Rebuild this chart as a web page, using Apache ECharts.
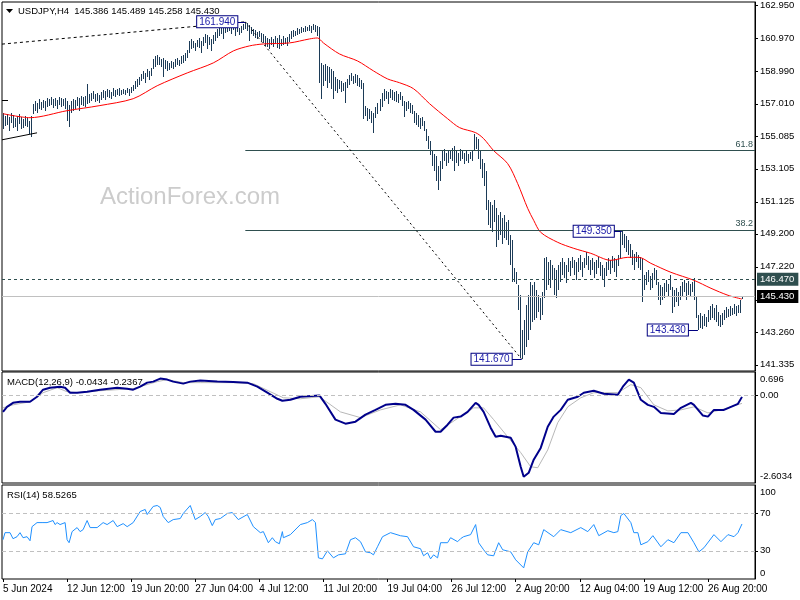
<!DOCTYPE html>
<html><head><meta charset="utf-8">
<script src="https://cdn.jsdelivr.net/npm/echarts@6/dist/echarts.min.js"></script>
<style>html,body{margin:0;padding:0;background:#fff}#c{width:800px;height:600px}</style>
</head><body><div id="c"></div>
<script>
// ---------- DATA ----------
const highs = [
156.48,156.30,156.42,156.24,156.48,156.36,156.18,156.30,156.42,156.24,
156.12,156.30,156.18,156.00,156.30,157.02,157.20,157.08,157.32,157.14,
157.26,157.20,157.38,157.32,157.44,157.32,157.38,157.26,157.44,157.38,
157.32,157.38,157.20,156.96,157.20,157.32,157.26,157.44,157.38,157.50,
157.44,157.50,158.22,157.62,157.68,157.80,157.62,157.68,157.56,157.74,
157.86,157.80,157.92,157.86,157.74,157.98,157.86,157.92,157.98,157.86,
157.92,157.86,157.98,157.92,158.04,158.16,158.40,158.51,158.63,158.81,
158.99,158.87,159.11,158.99,159.17,159.71,159.89,159.95,159.83,159.71,
159.77,159.65,159.59,159.47,159.59,159.53,159.71,159.77,159.65,159.89,
159.95,160.07,160.25,160.79,160.91,160.79,160.67,160.85,160.97,160.79,
161.03,161.21,161.15,161.03,160.91,161.15,161.33,161.51,161.57,161.69,
161.57,161.75,161.69,161.87,161.75,161.81,161.63,161.75,161.57,161.69,
161.81,161.94,161.87,161.75,161.63,161.51,161.45,161.33,161.39,161.27,
161.21,161.09,160.97,160.91,161.03,160.91,161.09,160.97,161.15,160.91,
161.09,160.97,161.03,161.21,161.39,161.45,161.39,161.57,161.51,161.63,
161.57,161.69,161.63,161.75,161.69,161.81,161.75,161.69,161.63,159.47,
159.35,159.41,159.29,159.23,159.11,158.99,158.63,158.51,158.45,158.40,
158.28,158.34,158.51,158.75,158.87,158.69,158.81,158.75,158.57,158.45,
158.28,156.90,156.78,156.72,156.60,156.48,156.84,157.08,157.32,157.68,
157.92,157.80,157.74,157.92,157.86,157.74,157.80,157.62,157.74,157.50,
157.20,157.14,157.20,157.08,156.96,156.60,156.48,156.36,156.18,156.24,
156.00,155.52,155.10,154.80,154.20,154.02,153.90,153.30,153.60,154.20,
154.32,154.08,154.26,154.20,154.38,154.50,154.20,154.08,154.32,154.20,
154.08,154.20,154.02,154.14,154.26,155.22,155.04,154.92,154.20,153.72,
153.48,153.00,151.21,151.09,150.91,151.21,150.73,150.31,150.49,150.13,
150.31,149.89,150.01,149.11,148.81,147.13,146.89,146.11,145.51,143.42,
144.02,144.92,145.51,146.29,146.11,146.29,145.81,145.51,145.33,145.69,
147.73,147.79,147.49,147.61,147.31,147.13,147.01,147.31,147.49,147.73,
147.49,147.31,147.73,147.55,147.79,147.61,147.49,147.73,147.91,147.49,
147.73,148.09,147.85,147.61,147.73,147.49,147.61,147.79,147.49,147.31,
147.13,147.49,147.73,147.61,147.85,147.73,147.61,147.91,149.29,149.35,
149.17,149.05,148.81,148.57,148.21,147.97,148.09,147.91,147.79,147.73,
146.71,146.89,147.01,146.65,146.83,147.13,147.01,146.29,146.11,145.99,
146.23,146.41,146.17,146.71,145.99,145.81,145.93,145.69,146.05,146.29,
146.41,146.23,146.35,146.17,146.29,146.53,145.39,144.32,144.44,144.26,
144.38,144.20,144.62,144.86,144.98,144.74,144.92,144.50,144.32,144.44,
144.62,144.80,144.68,144.86,144.74,144.98,144.86,144.92,145.22,145.489
];
const lows = [
155.52,155.70,155.76,155.40,155.88,155.58,155.64,155.40,155.82,155.52,
155.58,155.70,155.64,155.22,155.04,156.42,156.60,156.48,156.72,156.66,
156.78,156.60,156.84,156.90,156.96,156.78,156.90,156.72,156.96,156.84,
156.90,156.72,156.00,155.64,156.48,156.60,156.72,156.90,156.60,156.96,
156.90,156.84,157.02,157.08,157.20,157.32,157.14,157.20,157.08,157.26,
157.38,157.26,157.44,157.38,157.32,157.50,157.44,157.56,157.50,157.56,
157.62,157.56,157.68,157.50,157.68,157.80,157.92,158.04,158.16,158.40,
158.51,158.28,158.63,158.45,158.69,159.11,159.23,159.35,159.35,159.23,
158.63,159.11,158.99,159.05,159.17,159.11,159.23,159.35,159.29,159.41,
159.47,159.59,159.77,160.07,160.31,160.37,160.19,160.43,160.37,160.07,
160.49,160.67,160.31,160.55,160.19,160.61,160.79,160.97,161.09,161.21,
160.91,161.27,161.33,161.39,161.21,161.45,161.09,161.33,161.15,161.27,
161.45,161.51,161.39,160.79,161.21,161.09,160.97,160.91,161.03,160.79,
160.67,160.49,160.43,160.31,160.55,160.43,160.61,160.37,160.31,160.49,
160.55,160.61,160.49,160.73,160.91,161.03,161.09,161.15,161.21,161.27,
161.33,161.33,161.39,161.39,161.27,161.45,161.33,161.09,158.28,157.32,
158.10,158.40,157.98,158.28,157.92,157.32,157.80,157.68,157.92,157.74,
157.80,157.08,157.98,158.16,158.40,158.22,158.28,158.10,158.04,157.92,
156.12,156.30,156.00,156.12,155.88,155.28,156.18,156.42,156.60,156.84,
157.20,157.32,157.02,157.38,157.26,157.20,157.14,157.08,157.26,156.90,
156.24,156.60,156.72,156.48,156.42,155.88,155.76,155.64,155.52,155.70,
155.40,154.80,154.32,153.96,153.30,153.00,152.40,151.81,152.40,153.12,
153.60,153.30,153.48,153.72,153.60,153.00,153.48,153.30,153.60,153.72,
153.42,153.60,153.48,153.72,153.60,154.20,154.32,153.72,153.12,152.58,
152.10,150.61,149.71,149.53,149.29,149.89,148.39,148.81,149.11,148.57,
148.93,148.81,148.51,147.31,146.29,146.29,146.17,144.62,141.74,141.67,
141.92,142.40,142.82,143.42,143.90,144.02,144.14,144.50,144.02,144.32,
145.33,145.81,146.11,145.93,146.41,145.51,145.33,145.81,146.29,146.71,
146.53,146.23,146.89,146.65,147.13,146.71,146.41,146.89,147.01,146.59,
147.13,147.31,147.01,146.71,147.01,146.53,146.77,147.13,146.65,146.41,
145.99,146.65,147.01,146.77,147.13,146.89,146.59,147.25,147.73,148.51,
148.33,148.09,147.91,147.73,147.31,147.01,147.49,147.13,147.01,145.10,
145.81,146.11,146.29,145.81,145.93,146.41,146.11,145.22,144.92,145.22,
145.33,145.69,145.45,145.81,144.44,144.80,145.10,144.86,145.22,145.45,
145.69,145.22,145.51,145.39,145.69,145.22,144.14,143.43,143.54,143.48,
143.66,143.60,143.90,144.02,144.14,144.02,143.90,143.66,143.60,143.72,
144.02,144.14,144.20,144.26,144.32,144.38,144.26,144.44,144.44,145.258
];
// moving average (red), [bar index, price]
const maLine = [[0,156.42],[13.5,156.18],[32,156.60],[48,156.90],[65,157.32],[77,158.10],[92,158.87],[105,159.47],[115,160.19],[123,160.49],[130,160.61],[143,160.67],[153,160.91],[157,160.97],[160,160.67],[168,160.01],[177,159.59],[185,158.99],[192,158.51],[198,158.28],[205,157.92],[213,157.02],[222,156.12],[228,155.58],[236,155.28],[240,154.92],[245,154.20],[252,153.42],[257,152.22],[262,150.73],[265,150.01],[268.5,149.29],[277,148.69],[285,148.33],[293.5,148.03],[303.5,147.61],[312,147.79],[317.5,147.79],[323.5,147.43],[333.5,146.89],[345,146.41],[353.5,145.93],[362,145.51],[369,145.28]];
const macdLine = [[0,-0.49],[2,-0.34],[5,-0.22],[8.5,-0.19],[13.5,-0.19],[17,-0.04],[20,0.17],[23.5,0.23],[28.5,0.26],[31,0.23],[33.5,0.08],[37,0.08],[42,0.11],[48.5,0.17],[57,0.23],[62,0.20],[65,0.17],[68.5,0.26],[72,0.38],[75,0.41],[78.5,0.50],[82,0.47],[85,0.41],[90,0.35],[93.5,0.41],[98.5,0.44],[107,0.41],[115,0.40],[122,0.38],[127,0.26],[132,0.08],[137,-0.10],[139.5,-0.16],[143.5,-0.13],[148.5,-0.04],[158,0.00],[161,-0.25],[166,-0.72],[171,-0.84],[176,-0.78],[181,-0.57],[186,-0.43],[191,-0.28],[196,-0.25],[201,-0.28],[205,-0.43],[211,-0.72],[216,-1.08],[218.5,-1.08],[222,-0.87],[225,-0.66],[228.5,-0.63],[232,-0.49],[236,-0.22],[237.5,-0.28],[240,-0.49],[243.5,-0.96],[246,-1.23],[248.5,-1.20],[253.5,-1.26],[256,-1.53],[258.5,-2.12],[260,-2.42],[262.5,-2.30],[265,-1.91],[268.5,-1.56],[272,-0.93],[275,-0.63],[278.5,-0.43],[282,-0.13],[287,-0.04],[290,0.08],[295,0.14],[300,0.05],[307,0.02],[309.5,0.26],[312.5,0.47],[315,0.38],[318.5,-0.13],[322,-0.28],[325,-0.34],[328.5,-0.52],[335,-0.55],[338.5,-0.37],[343.5,-0.22],[345,-0.28],[349.5,-0.60],[352,-0.63],[355,-0.43],[360,-0.43],[363.5,-0.34],[367,-0.25],[369,-0.0434]];
const signalLine = [[0,-0.37],[5,-0.28],[13.5,-0.19],[20,0.08],[27,0.23],[32,0.11],[37,0.08],[48.5,0.14],[65,0.20],[77,0.41],[82,0.47],[90,0.38],[98.5,0.38],[115,0.38],[125,0.35],[133.5,0.11],[140,-0.07],[148.5,-0.10],[158,-0.04],[168.5,-0.49],[178.5,-0.66],[188.5,-0.43],[198.5,-0.28],[208.5,-0.49],[218.5,-1.02],[235,-0.37],[240,-0.37],[245,-0.72],[252,-1.23],[258.5,-1.70],[263.5,-2.12],[267,-2.15],[272,-1.62],[277,-0.81],[282,-0.34],[288.5,-0.07],[295,0.08],[307,0.08],[313.5,0.32],[318.5,0.23],[325,-0.28],[332,-0.46],[338.5,-0.43],[345,-0.34],[352,-0.52],[358.5,-0.43],[369,-0.2367]];
const rsiLine = [[0,41.8],[1,49.3],[3.5,49.3],[5,42.9],[7,45.0],[8.5,49.3],[10,43.9],[12,45.0],[13.5,40.7],[14.5,55.7],[17,60.0],[19.5,60.0],[22,60.0],[23.5,61.1],[25,62.2],[26,57.9],[27,60.0],[28.5,57.9],[31,60.0],[32,41.8],[33,38.6],[34.5,50.4],[37,54.7],[38.5,50.4],[40,52.5],[42,62.2],[43.5,54.7],[47,54.7],[50,60.0],[52,57.9],[55,62.2],[57,55.7],[60,58.9],[62,55.7],[65,60.0],[68.5,71.8],[71,74.0],[72,68.6],[75,77.2],[77,78.2],[78.5,76.1],[80,66.5],[82.5,60.0],[85,63.2],[88.5,64.3],[90,69.7],[93.5,78.2],[96,63.2],[98.5,66.5],[101,70.7],[102.5,66.5],[104.5,56.8],[106,63.2],[108.5,64.3],[112,69.7],[114.5,70.7],[117.5,63.2],[122,68.6],[125,55.7],[128.5,49.3],[130,50.4],[132.5,38.6],[134.5,43.9],[136,39.7],[138,37.5],[139.5,50.4],[140,43.9],[143.5,47.2],[148.5,57.9],[152,60.0],[154.5,63.2],[156,60.0],[157.5,22.5],[159.5,21.4],[162,30.0],[165,22.5],[167.5,25.7],[171,26.8],[173.5,41.8],[176,43.9],[178.5,39.7],[181,28.9],[183.5,27.9],[185,25.7],[187,34.3],[189.5,45.0],[193.5,49.3],[198.5,46.0],[202,45.0],[205,34.3],[208.5,32.2],[210,24.7],[212,27.9],[213.5,21.4],[215,25.7],[217,22.5],[218.5,38.6],[222,38.6],[223.5,43.9],[227,39.7],[228.5,42.9],[230,45.0],[233.5,47.2],[236,57.9],[237.5,38.6],[240,31.1],[242,25.7],[245,24.7],[247.5,38.6],[249.5,31.1],[253.5,28.9],[256,20.4],[260,11.8],[262,28.9],[265,38.6],[267.5,36.4],[270,52.5],[275,45.0],[278.5,52.5],[283.5,49.3],[288.5,54.7],[292,50.4],[295,57.9],[297.5,46.1],[302,51.4],[305,49.3],[307,50.4],[308.5,67.5],[310,69.7],[313.5,60.0],[315,49.3],[317,49.3],[318.5,36.4],[322,39.7],[324.5,46.1],[328.5,34.3],[332,41.8],[335,38.6],[338.5,49.3],[342,49.3],[345,38.6],[347.5,28.9],[350,33.2],[355,47.2],[358.5,39.7],[362,47.2],[365,45.0],[367,49.3],[369,58.5265]];
const priceTicks = [162.950,160.970,158.990,157.010,155.085,153.105,151.125,149.200,147.220,145.240,143.260,141.335];
const timeLabels = ['5 Jun 2024','12 Jun 12:00','19 Jun 20:00','27 Jun 04:00','4 Jul 12:00','11 Jul 20:00','19 Jul 04:00','26 Jul 12:00','2 Aug 20:00','12 Aug 04:00','19 Aug 12:00','26 Aug 20:00'];
const LABEL_STEP = 32;          // bars between time labels
const N_SLOTS = 376;            // bar slots incl. right shift
const fibLevels = [{name:'61.8', value:154.197},{name:'38.2', value:149.413}];
const fibStartBar = 121, swingHigh = 161.94, swingHighBar = 121, swingLow = 141.67, swingLowBar = 259;
const levelLines = [{value:146.47, text:'146.470'},{value:145.43, text:'145.430'}];
// price callouts: [text, price, box bar, target bar]
const callouts = [['161.940',161.94,117,121],['149.350',149.35,305,309],['143.430',143.43,342,347],['141.670',141.67,254,259]];
const macdTop = 0.696, macdBottom = -2.6034;
const titleText = 'USDJPY,H4  145.386 145.489 145.258 145.430';
const macdText = 'MACD(12,26,9) -0.0434 -0.2367';
const rsiText = 'RSI(14) 58.5265';

// ---------- CHART ----------
const FONT = 'Liberation Sans';
const BAR_COLOR = '#1c3b57';
const SLATE = '#2F4F4F';
const NAVY = '#000080';
const chart = echarts.init(document.getElementById('c'), null, {renderer:'canvas', width:800, height:600});
const cats = Array.from({length:N_SLOTS}, (_, i) => String(i));
const barData = highs.map((h, i) => [i, lows[i], h]);
const showIdx = (idx) => idx % LABEL_STEP === 0 && idx / LABEL_STEP < timeLabels.length;
const valueX = (g, pos) => ({type:'value', gridIndex:g, min:-0.5, max:N_SLOTS - 0.5, show:false, position:pos || 'bottom', axisLine:{onZero:false}});
const noSym = ['none','none'];

const markData = [];
levelLines.forEach((l, k) => {
  markData.push({yAxis:l.value,
    lineStyle: k === 0 ? {color:SLATE, type:[3,3], width:1} : {color:'#C0C0C0', type:'solid', width:1},
    label:{show:true, position:'end', distance:2, formatter:l.text, color:'#fff',
      backgroundColor: k === 0 ? SLATE : '#000', padding:[2,4,1,3], fontSize:9.5, fontFamily:FONT}});
});
fibLevels.forEach(f => {
  markData.push([{coord:[fibStartBar, f.value], lineStyle:{color:SLATE, type:'solid', width:1},
     label:{show:true, position:'insideEndTop', formatter:f.name, color:SLATE, fontSize:9, fontFamily:FONT, distance:2}},
    {coord:[N_SLOTS - 0.5, f.value]}]);
});
markData.push([{coord:[swingHighBar, swingHigh], lineStyle:{color:'#000', type:[2,3], width:1}, label:{show:false}}, {coord:[swingLowBar, swingLow]}]);
markData.push([{coord:[-0.5, 160.60], lineStyle:{color:'#000', type:[3,3], width:1}, label:{show:false}}, {coord:[swingHighBar, swingHigh]}]);
markData.push([{coord:[-0.5, 154.85], lineStyle:{color:'#000', type:'solid', width:1}, label:{show:false}}, {coord:[17, 155.27]}]);
markData.push([{coord:[-0.5, 157.20], lineStyle:{color:'#000', type:'solid', width:1}, label:{show:false}}, {coord:[2.5, 157.20]}]);
callouts.forEach(c => {
  markData.push([{coord:[c[2], c[1]], lineStyle:{color:NAVY, type:'solid', width:1},
    label:{show:true, position:'start', distance:0, formatter:c[0], color:'#1a1aa8', backgroundColor:'#fff',
      borderColor:NAVY, borderWidth:1, padding:[1,2,0,2], fontSize:10, fontFamily:FONT}},
    {coord:[c[3], c[1]]}]);
});

const axisTxt = {color:'#000', fontSize:9.5, fontFamily:FONT};
const yAxisBase = (g, min, max, vals, fmt) => ({type:'value', gridIndex:g, position:'right', min:min, max:max, splitLine:{show:false},
  axisLine:{show:true, onZero:false, lineStyle:{color:'#000'}},
  axisTick:{show:true, inside:false, customValues:vals, length:3, lineStyle:{color:'#000'}},
  axisLabel:Object.assign({customValues:vals, formatter:fmt, margin:5}, axisTxt)});
const option = {
  animation:false,
  backgroundColor:'#fff',
  grid:[
    {left:2, right:45, top:1, height:370, show:true, borderColor:'#000', borderWidth:1},
    {left:2, right:45, top:372, height:111, show:true, borderColor:'#000', borderWidth:1},
    {left:2, right:45, top:485, height:94, show:true, borderColor:'#000', borderWidth:1}
  ],
  xAxis:[valueX(0), valueX(1), valueX(2,'top'),
    {type:'category', gridIndex:2, data:cats, position:'bottom', boundaryGap:true,
     axisLine:{show:false, onZero:false}, splitLine:{show:false},
     axisTick:{show:true, interval:showIdx, alignWithLabel:true, length:3, lineStyle:{color:'#000'}},
     axisLabel:Object.assign({interval:showIdx, formatter:(v, idx) => timeLabels[Math.round(idx / LABEL_STEP)] || '', align:'left', margin:5}, axisTxt, {fontSize:10})}
  ],
  yAxis:[
    yAxisBase(0, 140.96, 163.13, priceTicks, v => v.toFixed(3)),
    yAxisBase(1, macdBottom, macdTop, [0], () => '0.00'),
    yAxisBase(2, 0, 100, [70,30], v => String(v))
  ],
  series:[
    {type:'line', xAxisIndex:0, yAxisIndex:0, data:[], z:1, silent:true,
     markLine:{silent:true, symbol:noSym, animation:false, data:markData}},
    {type:'custom', xAxisIndex:0, yAxisIndex:0, data:barData, z:2, silent:true, clip:true,
     encode:{x:0, y:[1,2]},
     renderItem:function(params, api){
       const x = api.value(0);
       const pLo = api.coord([x, api.value(1)]);
       const pHi = api.coord([x, api.value(2)]);
       const cx = Math.round(pLo[0]) + 0.5;
       let y1 = Math.round(pHi[1]), y2 = Math.round(pLo[1]);
       if (y2 - y1 < 2) y2 = y1 + 2;
       return {type:'line', shape:{x1:cx, y1:y1, x2:cx, y2:y2}, style:{stroke:BAR_COLOR, lineWidth:1}};
     }},
    {type:'line', xAxisIndex:0, yAxisIndex:0, data:maLine, z:3, symbol:'none', smooth:0.3, silent:true,
     lineStyle:{color:'#FF0000', width:1}},
    {type:'line', xAxisIndex:1, yAxisIndex:1, data:signalLine, z:2, symbol:'none', silent:true,
     lineStyle:{color:'#B8B8B8', width:1},
     markLine:{silent:true, symbol:noSym, label:{show:false}, lineStyle:{color:'#C0C0C0', type:[4,3], width:1}, data:[{yAxis:0}]}},
    {type:'line', xAxisIndex:1, yAxisIndex:1, data:macdLine, z:3, symbol:'none', silent:true,
     lineStyle:{color:'#00008B', width:2}},
    {type:'line', xAxisIndex:2, yAxisIndex:2, data:rsiLine, z:3, symbol:'none', silent:true,
     lineStyle:{color:'#1E90FF', width:1},
     markLine:{silent:true, symbol:noSym, label:{show:false}, lineStyle:{color:'#C0C0C0', type:[4,3], width:1}, data:[{yAxis:70},{yAxis:30}]}}
  ],
  graphic:[
    {id:'wm', type:'text', x:100, y:197, z:0, silent:true, style:{text:'ActionForex.com', fill:'#cccccc', font:'24px ' + FONT, verticalAlign:'middle'}},
    {id:'tri', type:'polygon', silent:true, shape:{points:[[6,9],[13,9],[9.5,13]]}, style:{fill:'#000'}},
    {id:'t1', type:'text', x:18, y:11, silent:true, style:{text:titleText, fill:'#000', font:'9.5px ' + FONT, verticalAlign:'middle'}},
    {id:'t2', type:'text', x:7, y:382, silent:true, style:{text:macdText, fill:'#000', font:'9.5px ' + FONT, verticalAlign:'middle'}},
    {id:'t3', type:'text', x:7, y:495, silent:true, style:{text:rsiText, fill:'#000', font:'9.5px ' + FONT, verticalAlign:'middle'}}
  ]
};
chart.setOption(option);

// indicator window min/max labels drawn inside the panel edge (MT4 style)
const edgeLabels = [[1, macdTop, '0.696', 7], [1, macdBottom, '-2.6034', -7], [2, 100, '100', 7], [2, 0, '0', -6]];
const extra = edgeLabels.map((e, k) => {
  const p = chart.convertToPixel({xAxisIndex:e[0], yAxisIndex:e[0]}, [0, e[1]]);
  return {id:'edge' + k, type:'text', x:760, y:p[1] + e[3], silent:true,
    style:{text:e[2], fill:'#000', font:'9.5px ' + FONT, verticalAlign:'middle'}};
});
chart.setOption({graphic:extra});
</script>
</body></html>
